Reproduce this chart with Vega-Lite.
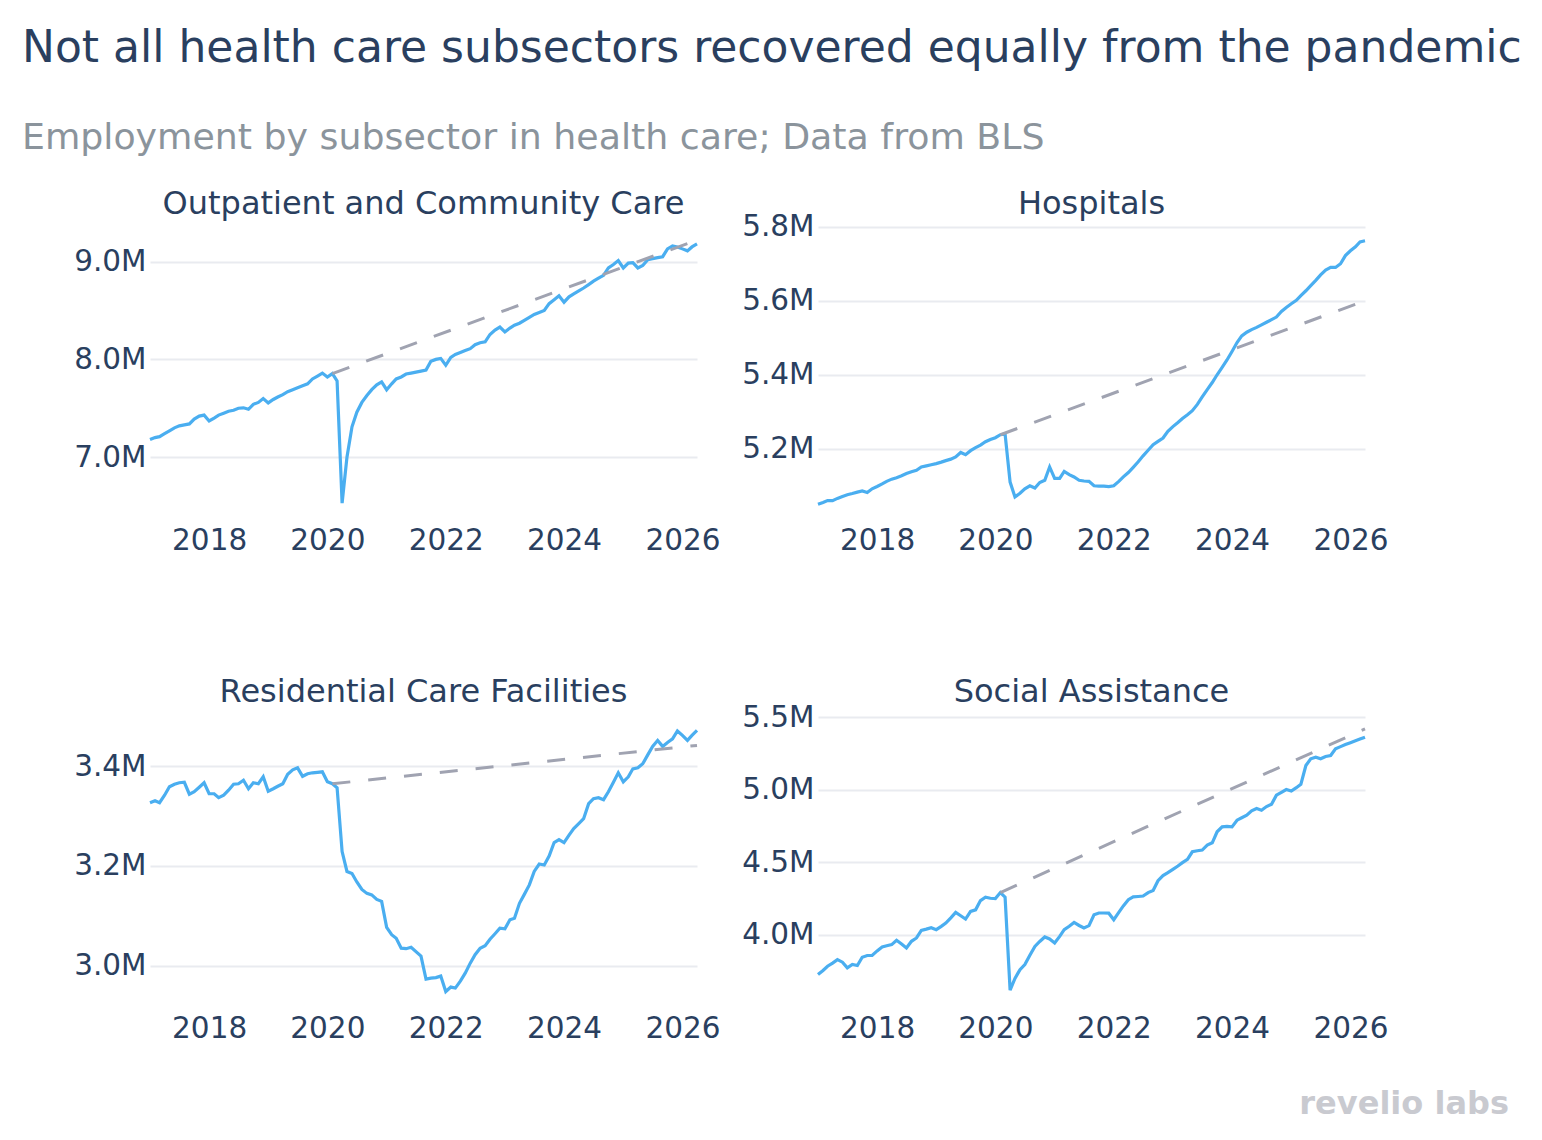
{
  "$schema": "https://vega.github.io/schema/vega-lite/v6.json",
  "background": "white",
  "autosize": {"type": "pad"},
  "padding": {"left": 22, "top": 27, "right": 10, "bottom": 10},
  "title": {
    "text": "Not all health care subsectors recovered equally from the pandemic",
    "subtitle": "Employment by subsector in health care; Data from BLS",
    "anchor": "start",
    "frame": "group",
    "baseline": "top",
    "dx": -128,
    "offset": 31,
    "fontSize": 44,
    "fontWeight": "normal",
    "color": "#2a3f5f",
    "subtitleFontSize": 36.3,
    "subtitleColor": "#8b949c",
    "subtitlePadding": 49
  },
  "bounds": "flush",
  "vconcat": [
    {
      "title": {
        "text": "revelio labs",
        "orient": "bottom",
        "anchor": "end",
        "frame": "bounds",
        "baseline": "top",
        "dx": 121,
        "offset": 46,
        "fontSize": 32,
        "fontWeight": "bold",
        "color": "#c9cad0"
      },
      "columns": 2,
      "bounds": "flush",
      "spacing": {"row": 196, "column": 121},
      "concat": [
        {
          "title": {"text": "Outpatient and Community Care"},
          "width": 547,
          "height": 292,
          "encoding": {
            "x": {"field": "month", "type": "temporal", "scale": {"type": "utc", "domain": [{"year": 2017, "month": 1, "date": 1, "utc": true}, {"year": 2026, "month": 4, "date": 1, "utc": true}]}, "axis": {"title": null, "format": "%Y", "values": [{"year": 2018, "utc": true}, {"year": 2020, "utc": true}, {"year": 2022, "utc": true}, {"year": 2024, "utc": true}, {"year": 2026, "utc": true}]}},
            "y": {"field": "jobs", "type": "quantitative", "scale": {"domain": [6.378, 9.364], "nice": false, "zero": false}, "axis": {"title": null, "values": [7, 8, 9], "labelExpr": "format(datum.value, '.1f') + 'M'"}}
          },
          "layer": [
            {"data": {"name": "outpatient"}, "mark": {"type": "line", "color": "#4aaef0", "strokeWidth": 3.2}},
            {"data": {"name": "outpatient_trend"}, "mark": {"type": "line", "color": "#a0a3b1", "strokeWidth": 3, "strokeDash": [18, 18]}}
          ]
        },
        {
          "title": {"text": "Hospitals", "dy": 14},
          "width": 547,
          "height": 292,
          "encoding": {
            "x": {"field": "month", "type": "temporal", "scale": {"type": "utc", "domain": [{"year": 2017, "month": 1, "date": 1, "utc": true}, {"year": 2026, "month": 4, "date": 1, "utc": true}]}, "axis": {"title": null, "format": "%Y", "values": [{"year": 2018, "utc": true}, {"year": 2020, "utc": true}, {"year": 2022, "utc": true}, {"year": 2024, "utc": true}, {"year": 2026, "utc": true}]}},
            "y": {"field": "jobs", "type": "quantitative", "scale": {"domain": [5.013, 5.802], "nice": false, "zero": false}, "axis": {"title": null, "values": [5.2, 5.4, 5.6, 5.8], "labelExpr": "format(datum.value, '.1f') + 'M'"}}
          },
          "layer": [
            {"data": {"name": "hospitals"}, "mark": {"type": "line", "color": "#4aaef0", "strokeWidth": 3.2}},
            {"data": {"name": "hospitals_trend"}, "mark": {"type": "line", "color": "#a0a3b1", "strokeWidth": 3, "strokeDash": [18, 18]}}
          ]
        },
        {
          "title": {"text": "Residential Care Facilities"},
          "width": 547,
          "height": 292,
          "encoding": {
            "x": {"field": "month", "type": "temporal", "scale": {"type": "utc", "domain": [{"year": 2017, "month": 1, "date": 1, "utc": true}, {"year": 2026, "month": 4, "date": 1, "utc": true}]}, "axis": {"title": null, "format": "%Y", "values": [{"year": 2018, "utc": true}, {"year": 2020, "utc": true}, {"year": 2022, "utc": true}, {"year": 2024, "utc": true}, {"year": 2026, "utc": true}]}},
            "y": {"field": "jobs", "type": "quantitative", "scale": {"domain": [2.919, 3.505], "nice": false, "zero": false}, "axis": {"title": null, "values": [3.0, 3.2, 3.4], "labelExpr": "format(datum.value, '.1f') + 'M'"}}
          },
          "layer": [
            {"data": {"name": "residential"}, "mark": {"type": "line", "color": "#4aaef0", "strokeWidth": 3.2}},
            {"data": {"name": "residential_trend"}, "mark": {"type": "line", "color": "#a0a3b1", "strokeWidth": 3, "strokeDash": [18, 18]}}
          ]
        },
        {
          "title": {"text": "Social Assistance", "dy": 12},
          "width": 547,
          "height": 292,
          "encoding": {
            "x": {"field": "month", "type": "temporal", "scale": {"type": "utc", "domain": [{"year": 2017, "month": 1, "date": 1, "utc": true}, {"year": 2026, "month": 4, "date": 1, "utc": true}]}, "axis": {"title": null, "format": "%Y", "values": [{"year": 2018, "utc": true}, {"year": 2020, "utc": true}, {"year": 2022, "utc": true}, {"year": 2024, "utc": true}, {"year": 2026, "utc": true}]}},
            "y": {"field": "jobs", "type": "quantitative", "scale": {"domain": [3.51, 5.523], "nice": false, "zero": false}, "axis": {"title": null, "values": [4.0, 4.5, 5.0, 5.5], "labelExpr": "format(datum.value, '.1f') + 'M'"}}
          },
          "layer": [
            {"data": {"name": "social"}, "mark": {"type": "line", "color": "#4aaef0", "strokeWidth": 3.2}},
            {"data": {"name": "social_trend"}, "mark": {"type": "line", "color": "#a0a3b1", "strokeWidth": 3, "strokeDash": [18, 18]}}
          ]
        }
      ]
    }
  ],
  "config": {
    "font": "DejaVu Sans",
    "view": {"stroke": null},
    "axisX": {"grid": false, "domain": false, "ticks": false, "labelFontSize": 29.5, "labelColor": "#2a3f5f", "labelPadding": 8, "labelFlush": false},
    "axisY": {"grid": true, "gridColor": "#e9ebf0", "gridWidth": 2, "domain": false, "ticks": false, "labelFontSize": 29.5, "labelColor": "#2a3f5f", "labelPadding": 4},
    "title": {"fontSize": 32, "fontWeight": "normal", "color": "#2a3f5f", "frame": "group", "anchor": "middle", "baseline": "alphabetic", "offset": 5}
  },
  "datasets": {
    "outpatient_trend": [
      {"month": "2020-02-01", "jobs": 7.855},
      {"month": "2026-04-01", "jobs": 9.22}
    ],
    "hospitals_trend": [
      {"month": "2020-02-01", "jobs": 5.238},
      {"month": "2026-04-01", "jobs": 5.60}
    ],
    "residential_trend": [
      {"month": "2020-02-01", "jobs": 3.365},
      {"month": "2026-04-01", "jobs": 3.442}
    ],
    "social_trend": [
      {"month": "2020-02-01", "jobs": 4.292},
      {"month": "2026-04-01", "jobs": 5.42}
    ],
    "outpatient": [
      {"month": "2017-01-01", "jobs": 7.18}, {"month": "2017-02-01", "jobs": 7.20}, {"month": "2017-03-01", "jobs": 7.21}, {"month": "2017-04-01", "jobs": 7.24},
      {"month": "2017-05-01", "jobs": 7.27}, {"month": "2017-06-01", "jobs": 7.30}, {"month": "2017-07-01", "jobs": 7.32}, {"month": "2017-08-01", "jobs": 7.33},
      {"month": "2017-09-01", "jobs": 7.34}, {"month": "2017-10-01", "jobs": 7.39}, {"month": "2017-11-01", "jobs": 7.42}, {"month": "2017-12-01", "jobs": 7.43},
      {"month": "2018-01-01", "jobs": 7.37}, {"month": "2018-02-01", "jobs": 7.40}, {"month": "2018-03-01", "jobs": 7.43}, {"month": "2018-04-01", "jobs": 7.45},
      {"month": "2018-05-01", "jobs": 7.47}, {"month": "2018-06-01", "jobs": 7.48}, {"month": "2018-07-01", "jobs": 7.50}, {"month": "2018-08-01", "jobs": 7.505},
      {"month": "2018-09-01", "jobs": 7.49}, {"month": "2018-10-01", "jobs": 7.54}, {"month": "2018-11-01", "jobs": 7.56}, {"month": "2018-12-01", "jobs": 7.60},
      {"month": "2019-01-01", "jobs": 7.555}, {"month": "2019-02-01", "jobs": 7.59}, {"month": "2019-03-01", "jobs": 7.615}, {"month": "2019-04-01", "jobs": 7.64},
      {"month": "2019-05-01", "jobs": 7.67}, {"month": "2019-06-01", "jobs": 7.69}, {"month": "2019-07-01", "jobs": 7.71}, {"month": "2019-08-01", "jobs": 7.73},
      {"month": "2019-09-01", "jobs": 7.75}, {"month": "2019-10-01", "jobs": 7.80}, {"month": "2019-11-01", "jobs": 7.83}, {"month": "2019-12-01", "jobs": 7.86},
      {"month": "2020-01-01", "jobs": 7.82}, {"month": "2020-02-01", "jobs": 7.855}, {"month": "2020-03-01", "jobs": 7.78}, {"month": "2020-04-01", "jobs": 6.53},
      {"month": "2020-05-01", "jobs": 7.00}, {"month": "2020-06-01", "jobs": 7.31}, {"month": "2020-07-01", "jobs": 7.46}, {"month": "2020-08-01", "jobs": 7.56},
      {"month": "2020-09-01", "jobs": 7.63}, {"month": "2020-10-01", "jobs": 7.69}, {"month": "2020-11-01", "jobs": 7.74}, {"month": "2020-12-01", "jobs": 7.77},
      {"month": "2021-01-01", "jobs": 7.69}, {"month": "2021-02-01", "jobs": 7.75}, {"month": "2021-03-01", "jobs": 7.80}, {"month": "2021-04-01", "jobs": 7.82},
      {"month": "2021-05-01", "jobs": 7.85}, {"month": "2021-06-01", "jobs": 7.86}, {"month": "2021-07-01", "jobs": 7.87}, {"month": "2021-08-01", "jobs": 7.88},
      {"month": "2021-09-01", "jobs": 7.89}, {"month": "2021-10-01", "jobs": 7.98}, {"month": "2021-11-01", "jobs": 8.00}, {"month": "2021-12-01", "jobs": 8.01},
      {"month": "2022-01-01", "jobs": 7.94}, {"month": "2022-02-01", "jobs": 8.02}, {"month": "2022-03-01", "jobs": 8.05}, {"month": "2022-04-01", "jobs": 8.07},
      {"month": "2022-05-01", "jobs": 8.09}, {"month": "2022-06-01", "jobs": 8.11}, {"month": "2022-07-01", "jobs": 8.15}, {"month": "2022-08-01", "jobs": 8.17},
      {"month": "2022-09-01", "jobs": 8.18}, {"month": "2022-10-01", "jobs": 8.255}, {"month": "2022-11-01", "jobs": 8.30}, {"month": "2022-12-01", "jobs": 8.33},
      {"month": "2023-01-01", "jobs": 8.28}, {"month": "2023-02-01", "jobs": 8.32}, {"month": "2023-03-01", "jobs": 8.35}, {"month": "2023-04-01", "jobs": 8.37},
      {"month": "2023-05-01", "jobs": 8.40}, {"month": "2023-06-01", "jobs": 8.43}, {"month": "2023-07-01", "jobs": 8.46}, {"month": "2023-08-01", "jobs": 8.48},
      {"month": "2023-09-01", "jobs": 8.50}, {"month": "2023-10-01", "jobs": 8.57}, {"month": "2023-11-01", "jobs": 8.61}, {"month": "2023-12-01", "jobs": 8.65},
      {"month": "2024-01-01", "jobs": 8.585}, {"month": "2024-02-01", "jobs": 8.64}, {"month": "2024-03-01", "jobs": 8.67}, {"month": "2024-04-01", "jobs": 8.70},
      {"month": "2024-05-01", "jobs": 8.73}, {"month": "2024-06-01", "jobs": 8.765}, {"month": "2024-07-01", "jobs": 8.80}, {"month": "2024-08-01", "jobs": 8.83},
      {"month": "2024-09-01", "jobs": 8.86}, {"month": "2024-10-01", "jobs": 8.935}, {"month": "2024-11-01", "jobs": 8.97}, {"month": "2024-12-01", "jobs": 9.01},
      {"month": "2025-01-01", "jobs": 8.935}, {"month": "2025-02-01", "jobs": 8.985}, {"month": "2025-03-01", "jobs": 8.99}, {"month": "2025-04-01", "jobs": 8.935},
      {"month": "2025-05-01", "jobs": 8.96}, {"month": "2025-06-01", "jobs": 9.02}, {"month": "2025-07-01", "jobs": 9.03}, {"month": "2025-08-01", "jobs": 9.04},
      {"month": "2025-09-01", "jobs": 9.05}, {"month": "2025-10-01", "jobs": 9.13}, {"month": "2025-11-01", "jobs": 9.16}, {"month": "2025-12-01", "jobs": 9.15},
      {"month": "2026-01-01", "jobs": 9.13}, {"month": "2026-02-01", "jobs": 9.11}, {"month": "2026-03-01", "jobs": 9.15}, {"month": "2026-04-01", "jobs": 9.18}
    ],
    "hospitals": [
      {"month": "2017-01-01", "jobs": 5.050}, {"month": "2017-02-01", "jobs": 5.055}, {"month": "2017-03-01", "jobs": 5.060}, {"month": "2017-04-01", "jobs": 5.060},
      {"month": "2017-05-01", "jobs": 5.066}, {"month": "2017-06-01", "jobs": 5.071}, {"month": "2017-07-01", "jobs": 5.076}, {"month": "2017-08-01", "jobs": 5.079},
      {"month": "2017-09-01", "jobs": 5.083}, {"month": "2017-10-01", "jobs": 5.086}, {"month": "2017-11-01", "jobs": 5.082}, {"month": "2017-12-01", "jobs": 5.092},
      {"month": "2018-01-01", "jobs": 5.098}, {"month": "2018-02-01", "jobs": 5.105}, {"month": "2018-03-01", "jobs": 5.112}, {"month": "2018-04-01", "jobs": 5.118},
      {"month": "2018-05-01", "jobs": 5.122}, {"month": "2018-06-01", "jobs": 5.127}, {"month": "2018-07-01", "jobs": 5.133}, {"month": "2018-08-01", "jobs": 5.138},
      {"month": "2018-09-01", "jobs": 5.142}, {"month": "2018-10-01", "jobs": 5.151}, {"month": "2018-11-01", "jobs": 5.154}, {"month": "2018-12-01", "jobs": 5.157},
      {"month": "2019-01-01", "jobs": 5.160}, {"month": "2019-02-01", "jobs": 5.164}, {"month": "2019-03-01", "jobs": 5.168}, {"month": "2019-04-01", "jobs": 5.172},
      {"month": "2019-05-01", "jobs": 5.178}, {"month": "2019-06-01", "jobs": 5.190}, {"month": "2019-07-01", "jobs": 5.184}, {"month": "2019-08-01", "jobs": 5.195},
      {"month": "2019-09-01", "jobs": 5.203}, {"month": "2019-10-01", "jobs": 5.210}, {"month": "2019-11-01", "jobs": 5.219}, {"month": "2019-12-01", "jobs": 5.225},
      {"month": "2020-01-01", "jobs": 5.230}, {"month": "2020-02-01", "jobs": 5.238}, {"month": "2020-03-01", "jobs": 5.240}, {"month": "2020-04-01", "jobs": 5.110},
      {"month": "2020-05-01", "jobs": 5.070}, {"month": "2020-06-01", "jobs": 5.080}, {"month": "2020-07-01", "jobs": 5.092}, {"month": "2020-08-01", "jobs": 5.100},
      {"month": "2020-09-01", "jobs": 5.094}, {"month": "2020-10-01", "jobs": 5.109}, {"month": "2020-11-01", "jobs": 5.115}, {"month": "2020-12-01", "jobs": 5.151},
      {"month": "2021-01-01", "jobs": 5.120}, {"month": "2021-02-01", "jobs": 5.120}, {"month": "2021-03-01", "jobs": 5.139}, {"month": "2021-04-01", "jobs": 5.130},
      {"month": "2021-05-01", "jobs": 5.124}, {"month": "2021-06-01", "jobs": 5.115}, {"month": "2021-07-01", "jobs": 5.113}, {"month": "2021-08-01", "jobs": 5.112},
      {"month": "2021-09-01", "jobs": 5.100}, {"month": "2021-10-01", "jobs": 5.099}, {"month": "2021-11-01", "jobs": 5.099}, {"month": "2021-12-01", "jobs": 5.098},
      {"month": "2022-01-01", "jobs": 5.100}, {"month": "2022-02-01", "jobs": 5.112}, {"month": "2022-03-01", "jobs": 5.124}, {"month": "2022-04-01", "jobs": 5.136},
      {"month": "2022-05-01", "jobs": 5.150}, {"month": "2022-06-01", "jobs": 5.165}, {"month": "2022-07-01", "jobs": 5.181}, {"month": "2022-08-01", "jobs": 5.196},
      {"month": "2022-09-01", "jobs": 5.211}, {"month": "2022-10-01", "jobs": 5.220}, {"month": "2022-11-01", "jobs": 5.229}, {"month": "2022-12-01", "jobs": 5.247},
      {"month": "2023-01-01", "jobs": 5.260}, {"month": "2023-02-01", "jobs": 5.271}, {"month": "2023-03-01", "jobs": 5.282}, {"month": "2023-04-01", "jobs": 5.292},
      {"month": "2023-05-01", "jobs": 5.303}, {"month": "2023-06-01", "jobs": 5.320}, {"month": "2023-07-01", "jobs": 5.340}, {"month": "2023-08-01", "jobs": 5.360},
      {"month": "2023-09-01", "jobs": 5.379}, {"month": "2023-10-01", "jobs": 5.400}, {"month": "2023-11-01", "jobs": 5.420}, {"month": "2023-12-01", "jobs": 5.440},
      {"month": "2024-01-01", "jobs": 5.463}, {"month": "2024-02-01", "jobs": 5.487}, {"month": "2024-03-01", "jobs": 5.505}, {"month": "2024-04-01", "jobs": 5.515},
      {"month": "2024-05-01", "jobs": 5.522}, {"month": "2024-06-01", "jobs": 5.528}, {"month": "2024-07-01", "jobs": 5.535}, {"month": "2024-08-01", "jobs": 5.542},
      {"month": "2024-09-01", "jobs": 5.549}, {"month": "2024-10-01", "jobs": 5.556}, {"month": "2024-11-01", "jobs": 5.571}, {"month": "2024-12-01", "jobs": 5.582},
      {"month": "2025-01-01", "jobs": 5.592}, {"month": "2025-02-01", "jobs": 5.601}, {"month": "2025-03-01", "jobs": 5.614}, {"month": "2025-04-01", "jobs": 5.627},
      {"month": "2025-05-01", "jobs": 5.641}, {"month": "2025-06-01", "jobs": 5.655}, {"month": "2025-07-01", "jobs": 5.670}, {"month": "2025-08-01", "jobs": 5.683},
      {"month": "2025-09-01", "jobs": 5.690}, {"month": "2025-10-01", "jobs": 5.690}, {"month": "2025-11-01", "jobs": 5.700}, {"month": "2025-12-01", "jobs": 5.722},
      {"month": "2026-01-01", "jobs": 5.735}, {"month": "2026-02-01", "jobs": 5.746}, {"month": "2026-03-01", "jobs": 5.759}, {"month": "2026-04-01", "jobs": 5.762}
    ],
    "residential": [
      {"month": "2017-01-01", "jobs": 3.327}, {"month": "2017-02-01", "jobs": 3.331}, {"month": "2017-03-01", "jobs": 3.327}, {"month": "2017-04-01", "jobs": 3.342},
      {"month": "2017-05-01", "jobs": 3.359}, {"month": "2017-06-01", "jobs": 3.364}, {"month": "2017-07-01", "jobs": 3.367}, {"month": "2017-08-01", "jobs": 3.368},
      {"month": "2017-09-01", "jobs": 3.344}, {"month": "2017-10-01", "jobs": 3.349}, {"month": "2017-11-01", "jobs": 3.358}, {"month": "2017-12-01", "jobs": 3.367},
      {"month": "2018-01-01", "jobs": 3.345}, {"month": "2018-02-01", "jobs": 3.345}, {"month": "2018-03-01", "jobs": 3.337}, {"month": "2018-04-01", "jobs": 3.342},
      {"month": "2018-05-01", "jobs": 3.352}, {"month": "2018-06-01", "jobs": 3.364}, {"month": "2018-07-01", "jobs": 3.365}, {"month": "2018-08-01", "jobs": 3.372},
      {"month": "2018-09-01", "jobs": 3.355}, {"month": "2018-10-01", "jobs": 3.367}, {"month": "2018-11-01", "jobs": 3.365}, {"month": "2018-12-01", "jobs": 3.379},
      {"month": "2019-01-01", "jobs": 3.350}, {"month": "2019-02-01", "jobs": 3.355}, {"month": "2019-03-01", "jobs": 3.360}, {"month": "2019-04-01", "jobs": 3.365},
      {"month": "2019-05-01", "jobs": 3.384}, {"month": "2019-06-01", "jobs": 3.393}, {"month": "2019-07-01", "jobs": 3.397}, {"month": "2019-08-01", "jobs": 3.380},
      {"month": "2019-09-01", "jobs": 3.385}, {"month": "2019-10-01", "jobs": 3.387}, {"month": "2019-11-01", "jobs": 3.388}, {"month": "2019-12-01", "jobs": 3.389},
      {"month": "2020-01-01", "jobs": 3.369}, {"month": "2020-02-01", "jobs": 3.365}, {"month": "2020-03-01", "jobs": 3.357}, {"month": "2020-04-01", "jobs": 3.229},
      {"month": "2020-05-01", "jobs": 3.189}, {"month": "2020-06-01", "jobs": 3.185}, {"month": "2020-07-01", "jobs": 3.168}, {"month": "2020-08-01", "jobs": 3.153},
      {"month": "2020-09-01", "jobs": 3.145}, {"month": "2020-10-01", "jobs": 3.142}, {"month": "2020-11-01", "jobs": 3.133}, {"month": "2020-12-01", "jobs": 3.129},
      {"month": "2021-01-01", "jobs": 3.077}, {"month": "2021-02-01", "jobs": 3.062}, {"month": "2021-03-01", "jobs": 3.055}, {"month": "2021-04-01", "jobs": 3.035},
      {"month": "2021-05-01", "jobs": 3.034}, {"month": "2021-06-01", "jobs": 3.037}, {"month": "2021-07-01", "jobs": 3.028}, {"month": "2021-08-01", "jobs": 3.019},
      {"month": "2021-09-01", "jobs": 2.973}, {"month": "2021-10-01", "jobs": 2.975}, {"month": "2021-11-01", "jobs": 2.976}, {"month": "2021-12-01", "jobs": 2.979},
      {"month": "2022-01-01", "jobs": 2.948}, {"month": "2022-02-01", "jobs": 2.957}, {"month": "2022-03-01", "jobs": 2.955}, {"month": "2022-04-01", "jobs": 2.969},
      {"month": "2022-05-01", "jobs": 2.985}, {"month": "2022-06-01", "jobs": 3.005}, {"month": "2022-07-01", "jobs": 3.022}, {"month": "2022-08-01", "jobs": 3.035},
      {"month": "2022-09-01", "jobs": 3.040}, {"month": "2022-10-01", "jobs": 3.053}, {"month": "2022-11-01", "jobs": 3.064}, {"month": "2022-12-01", "jobs": 3.075},
      {"month": "2023-01-01", "jobs": 3.074}, {"month": "2023-02-01", "jobs": 3.092}, {"month": "2023-03-01", "jobs": 3.095}, {"month": "2023-04-01", "jobs": 3.125},
      {"month": "2023-05-01", "jobs": 3.143}, {"month": "2023-06-01", "jobs": 3.162}, {"month": "2023-07-01", "jobs": 3.189}, {"month": "2023-08-01", "jobs": 3.204},
      {"month": "2023-09-01", "jobs": 3.202}, {"month": "2023-10-01", "jobs": 3.220}, {"month": "2023-11-01", "jobs": 3.247}, {"month": "2023-12-01", "jobs": 3.253},
      {"month": "2024-01-01", "jobs": 3.247}, {"month": "2024-02-01", "jobs": 3.262}, {"month": "2024-03-01", "jobs": 3.275}, {"month": "2024-04-01", "jobs": 3.285},
      {"month": "2024-05-01", "jobs": 3.295}, {"month": "2024-06-01", "jobs": 3.325}, {"month": "2024-07-01", "jobs": 3.335}, {"month": "2024-08-01", "jobs": 3.337},
      {"month": "2024-09-01", "jobs": 3.333}, {"month": "2024-10-01", "jobs": 3.349}, {"month": "2024-11-01", "jobs": 3.368}, {"month": "2024-12-01", "jobs": 3.387},
      {"month": "2025-01-01", "jobs": 3.369}, {"month": "2025-02-01", "jobs": 3.379}, {"month": "2025-03-01", "jobs": 3.395}, {"month": "2025-04-01", "jobs": 3.397},
      {"month": "2025-05-01", "jobs": 3.405}, {"month": "2025-06-01", "jobs": 3.423}, {"month": "2025-07-01", "jobs": 3.440}, {"month": "2025-08-01", "jobs": 3.452},
      {"month": "2025-09-01", "jobs": 3.440}, {"month": "2025-10-01", "jobs": 3.448}, {"month": "2025-11-01", "jobs": 3.455}, {"month": "2025-12-01", "jobs": 3.471},
      {"month": "2026-01-01", "jobs": 3.462}, {"month": "2026-02-01", "jobs": 3.452}, {"month": "2026-03-01", "jobs": 3.462}, {"month": "2026-04-01", "jobs": 3.472}
    ],
    "social": [
      {"month": "2017-01-01", "jobs": 3.727}, {"month": "2017-02-01", "jobs": 3.755}, {"month": "2017-03-01", "jobs": 3.784}, {"month": "2017-04-01", "jobs": 3.806},
      {"month": "2017-05-01", "jobs": 3.830}, {"month": "2017-06-01", "jobs": 3.812}, {"month": "2017-07-01", "jobs": 3.773}, {"month": "2017-08-01", "jobs": 3.796},
      {"month": "2017-09-01", "jobs": 3.789}, {"month": "2017-10-01", "jobs": 3.846}, {"month": "2017-11-01", "jobs": 3.858}, {"month": "2017-12-01", "jobs": 3.858},
      {"month": "2018-01-01", "jobs": 3.890}, {"month": "2018-02-01", "jobs": 3.917}, {"month": "2018-03-01", "jobs": 3.925}, {"month": "2018-04-01", "jobs": 3.933},
      {"month": "2018-05-01", "jobs": 3.963}, {"month": "2018-06-01", "jobs": 3.937}, {"month": "2018-07-01", "jobs": 3.910}, {"month": "2018-08-01", "jobs": 3.956},
      {"month": "2018-09-01", "jobs": 3.979}, {"month": "2018-10-01", "jobs": 4.031}, {"month": "2018-11-01", "jobs": 4.040}, {"month": "2018-12-01", "jobs": 4.050},
      {"month": "2019-01-01", "jobs": 4.036}, {"month": "2019-02-01", "jobs": 4.059}, {"month": "2019-03-01", "jobs": 4.082}, {"month": "2019-04-01", "jobs": 4.118},
      {"month": "2019-05-01", "jobs": 4.155}, {"month": "2019-06-01", "jobs": 4.132}, {"month": "2019-07-01", "jobs": 4.109}, {"month": "2019-08-01", "jobs": 4.162},
      {"month": "2019-09-01", "jobs": 4.173}, {"month": "2019-10-01", "jobs": 4.237}, {"month": "2019-11-01", "jobs": 4.260}, {"month": "2019-12-01", "jobs": 4.253},
      {"month": "2020-01-01", "jobs": 4.251}, {"month": "2020-02-01", "jobs": 4.292}, {"month": "2020-03-01", "jobs": 4.260}, {"month": "2020-04-01", "jobs": 3.620},
      {"month": "2020-05-01", "jobs": 3.700}, {"month": "2020-06-01", "jobs": 3.761}, {"month": "2020-07-01", "jobs": 3.796}, {"month": "2020-08-01", "jobs": 3.860},
      {"month": "2020-09-01", "jobs": 3.921}, {"month": "2020-10-01", "jobs": 3.955}, {"month": "2020-11-01", "jobs": 3.986}, {"month": "2020-12-01", "jobs": 3.972},
      {"month": "2021-01-01", "jobs": 3.945}, {"month": "2021-02-01", "jobs": 3.990}, {"month": "2021-03-01", "jobs": 4.036}, {"month": "2021-04-01", "jobs": 4.060},
      {"month": "2021-05-01", "jobs": 4.086}, {"month": "2021-06-01", "jobs": 4.065}, {"month": "2021-07-01", "jobs": 4.048}, {"month": "2021-08-01", "jobs": 4.064},
      {"month": "2021-09-01", "jobs": 4.139}, {"month": "2021-10-01", "jobs": 4.151}, {"month": "2021-11-01", "jobs": 4.151}, {"month": "2021-12-01", "jobs": 4.150},
      {"month": "2022-01-01", "jobs": 4.105}, {"month": "2022-02-01", "jobs": 4.155}, {"month": "2022-03-01", "jobs": 4.200}, {"month": "2022-04-01", "jobs": 4.243},
      {"month": "2022-05-01", "jobs": 4.262}, {"month": "2022-06-01", "jobs": 4.265}, {"month": "2022-07-01", "jobs": 4.268}, {"month": "2022-08-01", "jobs": 4.292},
      {"month": "2022-09-01", "jobs": 4.306}, {"month": "2022-10-01", "jobs": 4.374}, {"month": "2022-11-01", "jobs": 4.409}, {"month": "2022-12-01", "jobs": 4.429},
      {"month": "2023-01-01", "jobs": 4.452}, {"month": "2023-02-01", "jobs": 4.475}, {"month": "2023-03-01", "jobs": 4.498}, {"month": "2023-04-01", "jobs": 4.521},
      {"month": "2023-05-01", "jobs": 4.573}, {"month": "2023-06-01", "jobs": 4.580}, {"month": "2023-07-01", "jobs": 4.585}, {"month": "2023-08-01", "jobs": 4.619},
      {"month": "2023-09-01", "jobs": 4.635}, {"month": "2023-10-01", "jobs": 4.711}, {"month": "2023-11-01", "jobs": 4.745}, {"month": "2023-12-01", "jobs": 4.748},
      {"month": "2024-01-01", "jobs": 4.745}, {"month": "2024-02-01", "jobs": 4.791}, {"month": "2024-03-01", "jobs": 4.808}, {"month": "2024-04-01", "jobs": 4.825},
      {"month": "2024-05-01", "jobs": 4.855}, {"month": "2024-06-01", "jobs": 4.871}, {"month": "2024-07-01", "jobs": 4.860}, {"month": "2024-08-01", "jobs": 4.885},
      {"month": "2024-09-01", "jobs": 4.901}, {"month": "2024-10-01", "jobs": 4.963}, {"month": "2024-11-01", "jobs": 4.983}, {"month": "2024-12-01", "jobs": 5.002},
      {"month": "2025-01-01", "jobs": 4.992}, {"month": "2025-02-01", "jobs": 5.015}, {"month": "2025-03-01", "jobs": 5.038}, {"month": "2025-04-01", "jobs": 5.168},
      {"month": "2025-05-01", "jobs": 5.214}, {"month": "2025-06-01", "jobs": 5.225}, {"month": "2025-07-01", "jobs": 5.214}, {"month": "2025-08-01", "jobs": 5.230},
      {"month": "2025-09-01", "jobs": 5.237}, {"month": "2025-10-01", "jobs": 5.283}, {"month": "2025-11-01", "jobs": 5.298}, {"month": "2025-12-01", "jobs": 5.312},
      {"month": "2026-01-01", "jobs": 5.325}, {"month": "2026-02-01", "jobs": 5.338}, {"month": "2026-03-01", "jobs": 5.350}, {"month": "2026-04-01", "jobs": 5.363}
    ]
  }
}
